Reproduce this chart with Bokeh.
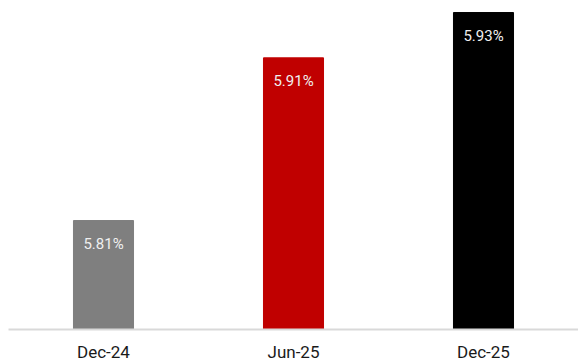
from bokeh.plotting import figure
from bokeh.models import ColumnDataSource, Range1d
from bokeh.core.properties import value
from bokeh.embed import file_html
from bokeh.resources import INLINE

categories = ["Dec-24", "Jun-25", "Dec-25"]
rates = [5.8145, 5.9075, 5.9334]
colors = ["#7f7f7f", "#c00000", "#000000"]
labels = ["{:.2f}%".format(v) for v in rates]

src = ColumnDataSource(dict(cat=categories, val=rates, color=colors, label=labels))

p = figure(x_range=categories, y_range=Range1d(5.7522, 5.9357),
           frame_width=570, frame_height=321,
           output_backend="svg", toolbar_location=None,
           min_border_left=8, min_border_right=0, min_border_top=8, min_border_bottom=0)

p.vbar(x="cat", top="val", bottom=5.7522, width=0.316, color="color", source=src)
p.text(x="cat", y="val", text="label", source=src, y_offset=23,
       text_align="center", text_baseline="middle",
       text_font=value("Roboto"), text_font_size="15px", text_color="#f0f0f0")

p.yaxis.visible = False
p.xgrid.visible = False
p.ygrid.visible = False
p.outline_line_color = None
p.xaxis.axis_line_color = "#d9d9d9"
p.xaxis.axis_line_width = 2
p.xaxis.major_tick_line_color = None
p.xaxis.minor_tick_line_color = None
p.xaxis.major_tick_out = 0
p.xaxis.major_tick_in = 0
p.xaxis.major_label_standoff = 12
p.xaxis.major_label_text_font = "Roboto"
p.xaxis.major_label_text_font_size = "17px"
p.xaxis.major_label_text_color = "#1a1a1a"
p.x_range.range_padding = 0

open("out.html", "w").write(file_html(p, INLINE))
